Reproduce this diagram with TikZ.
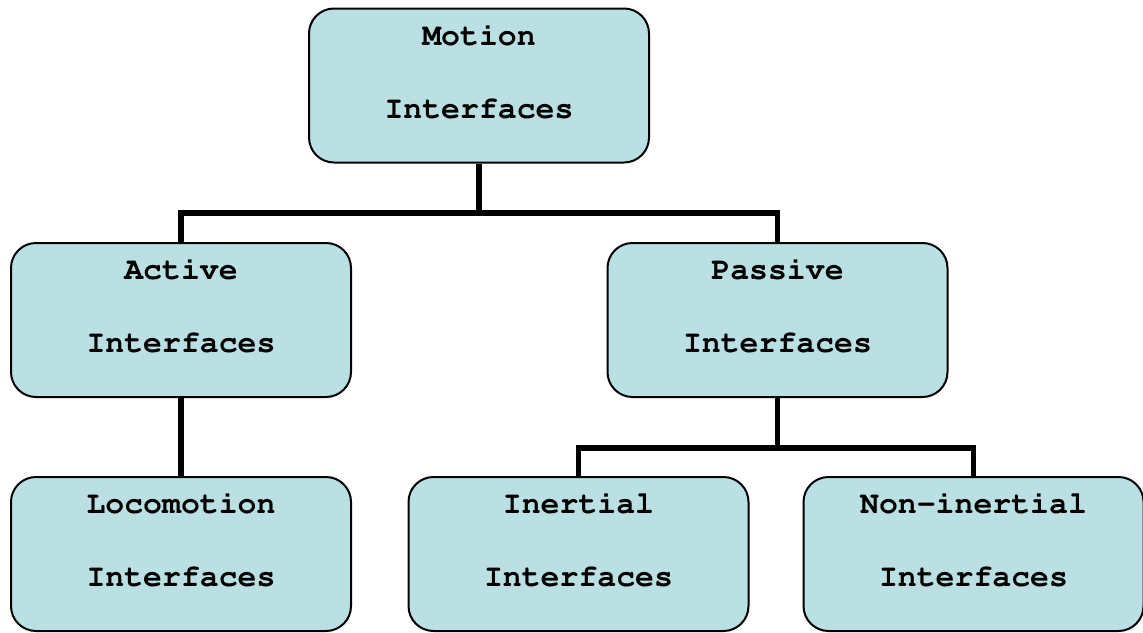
\documentclass[tikz,border=0pt]{standalone}
\usepackage[T1]{fontenc}
\usetikzlibrary{positioning}
\definecolor{boxblue}{HTML}{BBE0E3}

\begin{document}
\begin{tikzpicture}[x=1pt,y=-1pt]
  \tikzstyle{ibox}=[draw=black, line width=2pt, fill=boxblue, rounded corners=25pt,
    minimum width=340pt, minimum height=154pt, inner sep=0pt]
  \tikzstyle{itext}=[align=center, inner sep=0pt,
    font=\fontfamily{pcr}\bfseries\fontsize{31.5}{73}\selectfont]
  \tikzstyle{conn}=[line width=5.5pt]

    \useasboundingbox (0,0) rectangle (1143,632);

    % boxes
    \node[ibox] (motion) at (479,85.5) {};
    \node[ibox] (active) at (181,320) {};
    \node[ibox] (passive) at (777.5,320) {};
    \node[ibox] (loco) at (181,554) {};
    \node[ibox] (inert) at (578.5,554) {};
    \node[ibox] (noninert) at (973.5,554) {};

    % texts
    \node[itext] (motiontxt) at ([yshift=14pt]motion.center) {Motion\\Interfaces};
    \node[itext] (activetxt) at ([yshift=14pt]active.center) {Active\\Interfaces};
    \node[itext] (passivetxt) at ([yshift=14pt]passive.center) {Passive\\Interfaces};
    \node[itext] (locotxt) at ([yshift=14pt]loco.center) {Locomotion\\Interfaces};
    \node[itext] (inerttxt) at ([yshift=14pt]inert.center) {Inertial\\Interfaces};
    \node[itext] (noninerttxt) at ([yshift=14pt]noninert.center) {Non-inertial\\Interfaces};

    % connectors
    \coordinate (top) at (479,213);
    \coordinate (right) at (777.5,448);
    \draw[conn] (motion.south) -- (top);
    \draw[conn] (active.north) |- (top) -| (passive.north);
    \draw[conn] (active.south) -- (loco.north);
    \draw[conn] (passive.south) -- (right);
    \draw[conn] (inert.north) |- (right) -| (noninert.north);

  \end{tikzpicture}
\end{document}
